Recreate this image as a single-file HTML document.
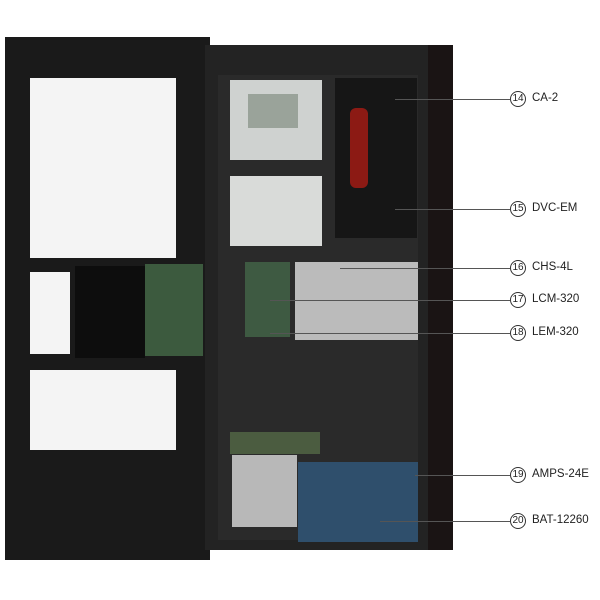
<!DOCTYPE html>
<html><head><style>
body{margin:0;width:600px;height:600px;background:#fff;position:relative;overflow:hidden;font-family:"Liberation Sans",sans-serif}
div{position:absolute;box-sizing:border-box}
.l{height:1px;background:#555}
.c{width:16px;height:16px;border:1px solid #333;border-radius:50%;font-size:10px;text-align:center;line-height:14px;color:#222;background:#fff}
.t{font-size:11.5px;color:#222}
</style></head><body>
<!-- door -->
<div style="left:5px;top:37px;width:205px;height:523px;background:#1a1a1a"></div>
<div style="left:30px;top:78px;width:146px;height:180px;background:#f4f4f4"></div>
<div style="left:30px;top:272px;width:40px;height:82px;background:#f4f4f4"></div>
<div style="left:75px;top:266px;width:70px;height:92px;background:#0d0d0d"></div>
<div style="left:145px;top:264px;width:58px;height:92px;background:#3c5a3e"></div>
<div style="left:30px;top:370px;width:146px;height:80px;background:#f4f4f4"></div>
<!-- cabinet -->
<div style="left:205px;top:45px;width:248px;height:505px;background:#232323"></div>
<div style="left:428px;top:45px;width:25px;height:505px;background:#1a1414"></div>
<div style="left:218px;top:75px;width:200px;height:465px;background:#2a2a2a"></div>
<div style="left:335px;top:78px;width:82px;height:160px;background:#161616"></div>
<div style="left:350px;top:108px;width:18px;height:80px;background:#8c1a14;border-radius:6px"></div>
<div style="left:230px;top:80px;width:92px;height:80px;background:#cfd2d0"></div>
<div style="left:248px;top:94px;width:50px;height:34px;background:#9aa39a"></div>
<div style="left:230px;top:176px;width:92px;height:70px;background:#d9dbd9"></div>
<div style="left:295px;top:262px;width:123px;height:78px;background:#bbbbbb"></div>
<div style="left:245px;top:262px;width:45px;height:75px;background:#3e5a42"></div>
<div style="left:230px;top:432px;width:90px;height:22px;background:#4b5c40"></div>
<div style="left:232px;top:455px;width:65px;height:72px;background:#b8b8b8"></div>
<div style="left:298px;top:462px;width:120px;height:80px;background:#2f4f6c"></div>
<!-- callouts -->
<div class="l" style="left:395px;top:99px;width:115px"></div><div class="c" style="left:510px;top:91px">14</div><div class="t" style="left:532px;top:92px">CA-2</div>
<div class="l" style="left:395px;top:209px;width:115px"></div><div class="c" style="left:510px;top:201px">15</div><div class="t" style="left:532px;top:202px">DVC-EM</div>
<div class="l" style="left:340px;top:268px;width:170px"></div><div class="c" style="left:510px;top:260px">16</div><div class="t" style="left:532px;top:261px">CHS-4L</div>
<div class="l" style="left:270px;top:300px;width:240px"></div><div class="c" style="left:510px;top:292px">17</div><div class="t" style="left:532px;top:293px">LCM-320</div>
<div class="l" style="left:270px;top:333px;width:240px"></div><div class="c" style="left:510px;top:325px">18</div><div class="t" style="left:532px;top:326px">LEM-320</div>
<div class="l" style="left:415px;top:475px;width:95px"></div><div class="c" style="left:510px;top:467px">19</div><div class="t" style="left:532px;top:468px">AMPS-24E</div>
<div class="l" style="left:380px;top:521px;width:130px"></div><div class="c" style="left:510px;top:513px">20</div><div class="t" style="left:532px;top:514px">BAT-12260</div>
</body></html>
